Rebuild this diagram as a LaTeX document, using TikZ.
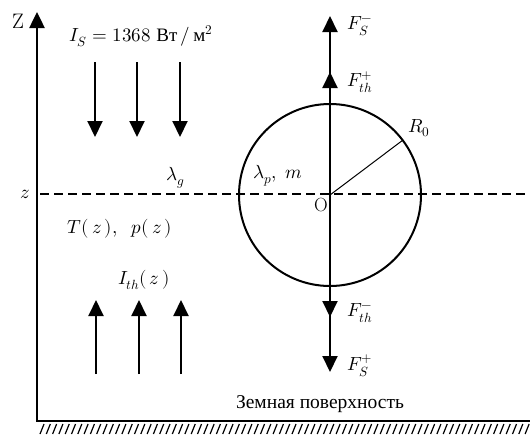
\documentclass[tikz,border=0pt]{standalone}
\usepackage{fontspec}
\usepackage{unicode-math}
\setmathfont{Latin Modern Math}
\newfontfamily\rus{Liberation Serif}
\usetikzlibrary{arrows.meta}
\begin{document}
\begin{tikzpicture}[x=1pt,y=-1pt,
  big/.style={-{Triangle[width=15pt,length=16pt]}},
  thick2/.style={line width=2pt},
  lbl/.style={font=\fontsize{19}{23}\selectfont, inner sep=0pt}]
\useasboundingbox (0,0) rectangle (530,437);
% axes and ground
\coordinate (ztop) at (37,12);
\coordinate (corner) at (37,421);
\coordinate (gend) at (530,421);
\draw[line width=2.5pt, {Triangle[width=15pt,length=16pt]}-, line join=miter] (ztop) -- (corner) -- (gend);
\foreach \x in {40,46.3,...,530} \draw[line width=1.2pt] (\x,434) -- (\x+4,424);
% dashed level
\coordinate (dl) at (40,194);
\coordinate (dr) at (530,194);
\draw[line width=1.5pt, dash pattern=on 9pt off 5pt] (dl) -- (dr);
% particle
\coordinate (O) at (330,195);
\draw[thick2] (O) circle[radius=91pt];
\draw[line width=1pt] (O) -- +(37:91pt) coordinate (Rp);
% force arrows
\coordinate (Fsm) at (330,16);
\coordinate (Fthp) at (330,72);
\coordinate (Fthm) at (330,317);
\coordinate (Fsp) at (330,372);
\draw[thick2, big] (O) -- (Fsm);
\draw[thick2, big] (O) -- (Fthp);
\draw[thick2, big] (O) -- (Fsp);
\draw[thick2, big] (O) -- (Fthm);
% solar arrows
\foreach \x/\n in {95/a,137/b,180/c}{
  \coordinate (s\n1) at (\x,62);
  \coordinate (s\n2) at (\x,137);
  \draw[thick2, big] (s\n1) -- (s\n2);
}
\foreach \x/\n in {96/a,139/b,181/c}{
  \coordinate (t\n1) at (\x,374);
  \coordinate (t\n2) at (\x,300);
  \draw[thick2, big] (t\n1) -- (t\n2);
}
% labels
\node[lbl, font=\fontsize{21}{24}\selectfont] (Zl) at (18,21) {Z};
\node[lbl] (zl) at (25,194) {$z$};
\node[lbl] (Is) at (141,36) {$I_S = 1368$ {\rus Вт}$\,/\,${\rus м}$^2$};
\node[lbl] (lg) at (176,178) {$\lambda_g$};
\node[lbl] (lp) at (278,176) {$\lambda_p,\ m$};
\node[lbl] (Ol) at (321,205) {O};
\node[lbl] (R0) at (419,128) {$R_0$};
\node[lbl] (Tp) at (120,229) {$T(\,z\,),\ \ p(\,z\,)$};
\node[lbl] (Ith) at (144,280) {$I_{th}(\,z\,)$};
\node[lbl, font=\fontsize{19.5}{23}\selectfont] (ground) at (320,404) {\rus Земная поверхность};
\node[lbl, anchor=west] (L1) at (347,26) {$F_S^-$};
\node[lbl, anchor=west] (L2) at (347,82) {$F_{th}^+$};
\node[lbl, anchor=west] (L3) at (347,313) {$F_{th}^-$};
\node[lbl, anchor=west] (L4) at (347,366) {$F_S^+$};
\end{tikzpicture}
\end{document}
